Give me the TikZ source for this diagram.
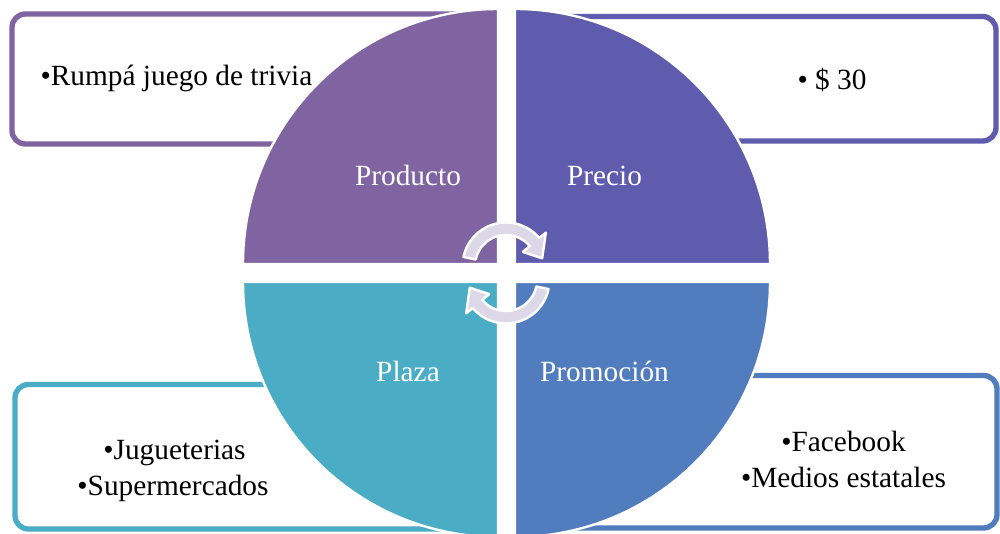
\documentclass[tikz,border=0pt]{standalone}
\usepackage{fontspec}
\setmainfont{Liberation Serif}
\usepackage{xcolor}
\usepackage{tikz}

\definecolor{prodcol}{RGB}{128,100,162}
\definecolor{preccol}{RGB}{95,91,173}
\definecolor{promcol}{RGB}{81,124,189}
\definecolor{plazcol}{RGB}{75,172,198}
\definecolor{cyclecol}{RGB}{220,216,232}

\begin{document}
\begin{tikzpicture}[x=0.75pt, y=-0.75pt,
    infobox/.style={draw, line width=4pt, rounded corners=10pt, fill=white},
    quarter/.style={draw=white, line width=1.8pt},
    quadlabel/.style={text=white, anchor=base, font=\fontsize{22}{27}\selectfont},
    boxtext/.style={anchor=base, font=\fontsize{22}{27}\selectfont},
    cyclearrow/.style={fill=cyclecol, draw=white, line width=1.8pt, line join=round}]
        \useasboundingbox (0,0) rectangle (1000,534);

        % boxes behind the circle
        \draw[infobox, draw=prodcol] (12,14) rectangle (470,144);
        \draw[infobox, draw=preccol] (540,16.5) rectangle (996,141);
        \draw[infobox, draw=plazcol] (15,384.5) rectangle (470,529);
        \draw[infobox, draw=promcol] (540,375.5) rectangle (997,528);

        % four quarters
        \path[quarter, fill=prodcol] (498,264) -- (243,264) arc[start angle=180, end angle=270, radius=255] -- cycle;
        \path[quarter, fill=preccol] (515,264) -- (515,9) arc[start angle=270, end angle=360, radius=255] -- cycle;
        \path[quarter, fill=promcol] (515,282) -- (770,282) arc[start angle=0, end angle=90, radius=255] -- cycle;
        \path[quarter, fill=plazcol] (498,282) -- (498,537) arc[start angle=90, end angle=180, radius=255] -- cycle;

        \node[quadlabel] (producto) at (408,185.5) {Producto};
        \node[quadlabel] (precio) at (604.5,185.5) {Precio};
        \node[quadlabel] (plaza) at (408,381.5) {Plaza};
        \node[quadlabel] (promocion) at (604.5,381.5) {Promoción};

        % box texts
        \node[boxtext] (rumpa) at (176.5,85.5) {•Rumpá juego de trivia};
        \node[boxtext] (costo) at (832,90) {• \$ 30};
        \node[boxtext] (jugueterias) at (174.5,459.5) {•Jugueterias};
        \node[boxtext] (super) at (173,495.5) {•Supermercados};
        \node[boxtext] (facebook) at (843.5,451.5) {•Facebook};
        \node[boxtext] (medios) at (843.5,487.5) {•Medios estatales};

        % cycle arrows in the middle
        \begin{scope}[shift={(506,266)}]
            \path[cyclearrow] (192:43.5) arc[start angle=192, end angle=320, radius=43.5] -- (320:52) -- (348:37) -- (320:22) -- (320:31) arc[start angle=320, end angle=192, radius=31] -- cycle;
        \end{scope}
        \begin{scope}[shift={(506,280)}]
            \path[cyclearrow] (12:43.5) arc[start angle=12, end angle=140, radius=43.5] -- (140:52) -- (168:37) -- (140:22) -- (140:31) arc[start angle=140, end angle=12, radius=31] -- cycle;
        \end{scope}
    \end{tikzpicture}
\end{document}
